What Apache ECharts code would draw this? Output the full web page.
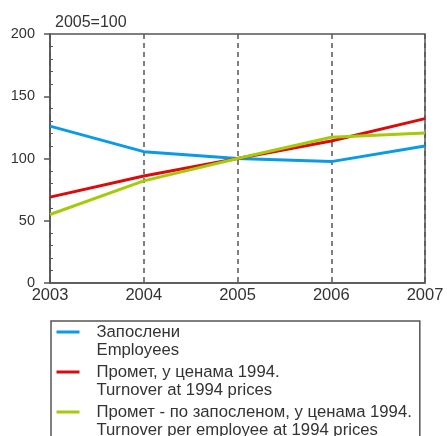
<!DOCTYPE html>
<html><head><meta charset="utf-8">
<script src="https://cdn.jsdelivr.net/npm/echarts@6/dist/echarts.min.js"></script>
<style>html,body{margin:0;padding:0;background:#fff}#c{width:447px;height:436px}</style>
</head><body><div id="c"></div>
<script>
const years = ['2003', '2004', '2005', '2006', '2007'];
const employees = [126, 105.5, 100, 97.5, 110];
const turnover = [69, 86, 100, 114, 132];
const turnoverPerEmployee = [55, 82, 100, 117, 120.5];
const seriesNames = ['Запослени', 'Промет, у ценама 1994.', 'Промет - по запосленом, у ценама 1994.'];
const seriesNamesEn = ['Employees', 'Turnover at 1994 prices', 'Turnover per employee at 1994 prices'];
const unitLabel = '2005=100';
const yTicks = { min: 0, max: 200, interval: 50 };

const FONT = '"Liberation Sans", Arial, sans-serif';
const AX = '#555';
const icon = 'path://M0,0h0.01v0.01h-0.01Z M0,7.5h23v3h-23Z M35,36h0.01v0.01h-0.01Z';

const chart = echarts.init(document.getElementById('c'), null, { renderer: 'canvas' });
chart.setOption({
  animation: false,
  backgroundColor: '#fff',
  textStyle: { fontFamily: FONT },
  title: {
    text: unitLabel, left: 50, top: 10,
    textStyle: { fontFamily: FONT, fontSize: 16, fontWeight: 'normal', color: '#333' }
  },
  grid: { left: 50, right: 22, top: 34, bottom: 153, show: true, borderColor: AX, borderWidth: 1.5, backgroundColor: 'transparent' },
  legend: {
    type: 'plain', orient: 'vertical', left: 51, top: 321, height: 200,
    padding: [2, 8, 6, 5.5], itemGap: 4,
    itemWidth: 35, itemHeight: 36, icon: icon,
    itemStyle: { borderWidth: 0 },
    borderColor: AX, borderWidth: 1.5,
    data: seriesNames,
    formatter: function (n) { return n + '\n' + seriesNamesEn[seriesNames.indexOf(n)]; },
    textStyle: { fontFamily: FONT, fontSize: 16.7, lineHeight: 18, color: '#333' }
  },
  xAxis: {
    type: 'category', data: years, boundaryGap: false,
    axisLine: { lineStyle: { color: AX, width: 1.5 } },
    axisTick: { show: false },
    axisLabel: { margin: 4, fontFamily: FONT, fontSize: 16.5, color: '#333' },
    splitLine: { show: true, lineStyle: { color: AX, width: 1.5, type: [5, 4] } }
  },
  yAxis: [{
    type: 'value', min: yTicks.min, max: yTicks.max, interval: yTicks.interval,
    axisLine: { show: true, lineStyle: { color: AX, width: 1.5 } },
    axisTick: { show: true, length: 6, lineStyle: { color: AX, width: 1.5 } },
    axisLabel: { margin: 15, fontFamily: FONT, fontSize: 14.5, color: '#333' },
    splitLine: { show: false }
  }, {
    type: 'value', min: yTicks.min, max: yTicks.max, interval: yTicks.interval, position: 'left',
    axisLine: { show: false },
    axisTick: { show: false, inside: true },
    minorTick: { show: true, splitNumber: 5, length: 3, lineStyle: { color: AX, width: 1 } },
    axisLabel: { show: false },
    splitLine: { show: false }
  }],
  series: [
    { name: seriesNames[0], type: 'line', data: employees, symbol: 'none', color: '#0a9be6', lineStyle: { width: 3 } },
    { name: seriesNames[1], type: 'line', data: turnover, symbol: 'none', color: '#dc0a0a', lineStyle: { width: 3 } },
    { name: seriesNames[2], type: 'line', data: turnoverPerEmployee, symbol: 'none', color: '#a4cb0a', lineStyle: { width: 3 } }
  ]
});
</script></body></html>
